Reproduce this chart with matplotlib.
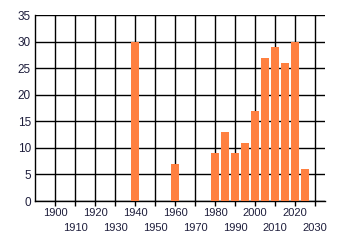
import matplotlib
matplotlib.use('Agg')
from matplotlib import pyplot as plt

years = [1940, 1960, 1980, 1985, 1990, 1995, 2000, 2005, 2010, 2015, 2020, 2025]
counts = [30, 7, 9, 13, 9, 11, 17, 27, 29, 26, 30, 6]
upper_ticks = [1900, 1920, 1940, 1960, 1980, 2000, 2020]
lower_ticks = [1910, 1930, 1950, 1970, 1990, 2010, 2030]

plt.rcParams['font.family'] = ['Liberation Sans', 'DejaVu Sans']
text_color = '#1e1e3c'

fig = plt.figure(figsize=(3.4, 2.45), dpi=100)
ax = fig.add_axes([35 / 340, 44 / 245, 290 / 340, 186 / 245])

ax.bar(years, counts, width=3.9, color='#ff8040', zorder=3)

ax.set_xlim(1890, 2035)
ax.set_ylim(0, 35)
# staggered year labels: even decades on top row, odd decades below
ax.set_xticks(upper_ticks)
ax.set_xticklabels([str(y) for y in upper_ticks])
ax.set_xticks(lower_ticks, minor=True)
ax.set_xticklabels([str(y) for y in lower_ticks], minor=True)
ax.set_yticks(range(0, 36, 5))
ax.tick_params(axis='y', length=0, pad=3, labelsize=8.5, labelcolor=text_color)
ax.tick_params(axis='x', which='major', length=3.5, width=1, pad=1.5,
               labelsize=8, labelcolor=text_color, color='black')
ax.tick_params(axis='x', which='minor', length=3.5, width=1, pad=12.5,
               labelsize=8, labelcolor=text_color, color='black')
ax.grid(True, which='both', axis='x', color='black', linewidth=1, zorder=1)
ax.grid(True, which='major', axis='y', color='black', linewidth=1, zorder=1)

for side in ['top', 'right']:
    ax.spines[side].set_visible(False)
ax.spines['left'].set_linewidth(1)
ax.spines['bottom'].set_linewidth(1)

plt.savefig('out.png', dpi=100)
